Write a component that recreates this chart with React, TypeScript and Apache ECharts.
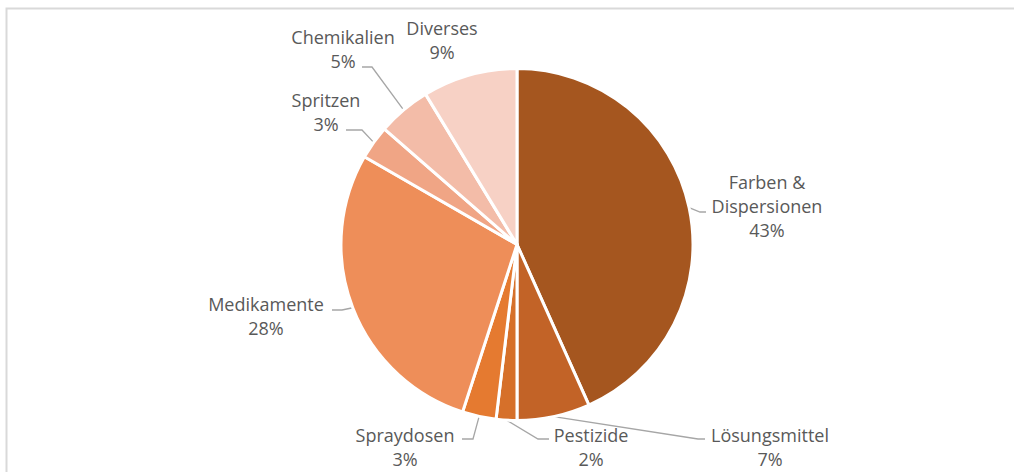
import React, { useEffect, useRef } from "react";
import * as echarts from "echarts";

const categories = [
  "Farben &\nDispersionen",
  "Lösungsmittel",
  "Pestizide",
  "Spraydosen",
  "Medikamente",
  "Spritzen",
  "Chemikalien",
  "Diverses",
];
const values = [43.3, 6.7, 1.9, 3.1, 28.3, 3.1, 4.9, 8.7];
const colors = [
  "#A5561F",
  "#C26327",
  "#D6702A",
  "#E57A30",
  "#EE8E59",
  "#F0A585",
  "#F3BCA8",
  "#F7D1C5",
];
// label centres (layout only)
const labelPos: [number, number][] = [
  [767, 206],
  [770, 447],
  [591, 447],
  [405, 447],
  [266, 316],
  [326, 112],
  [343, 49],
  [442, 40],
];
// leader-line bend and end points (layout only); null = no line
const leaderPts: ([number, number][] | null)[] = [
  [[700, 212], [706, 212]],
  [[698, 439], [705, 439]],
  [[538, 439], [549, 439]],
  [[473, 439], [462, 439]],
  [[342, 310], [332, 310]],
  [[362, 130], [346, 130]],
  [[372, 67], [362, 67]],
  null,
];

export default function App() {
  const ref = useRef<HTMLDivElement>(null);
  useEffect(() => {
    document.body.style.margin = "0";
    const chart = echarts.init(ref.current!, null, { renderer: "svg" });
    chart.setOption({
      animation: false,
      backgroundColor: "#ffffff",
      graphic: [
        {
          type: "rect",
          shape: { x: 6.5, y: 8.5, width: 1030, height: 500 },
          style: { fill: "none", stroke: "#D9D9D9", lineWidth: 2 },
          silent: true,
        },
      ],
      series: [
        {
          type: "pie",
          center: [517, 244.5],
          radius: [0, 176],
          startAngle: 90,
          clockwise: true,
          avoidLabelOverlap: false,
          itemStyle: { borderColor: "#ffffff", borderWidth: 3 },
          data: categories.map((c, i) => ({
            name: c,
            value: values[i],
            itemStyle: { color: colors[i] },
            labelLine: { show: leaderPts[i] !== null },
          })),
          label: {
            show: true,
            position: "outside",
            formatter: (p: any) => `${p.name}\n${Math.round(p.percent)}%`,
            fontFamily: "Open Sans",
            fontSize: 18,
            lineHeight: 24,
            color: "#595959",
            align: "center",
          },
          labelLine: {
            show: true,
            length: 8,
            length2: 8,
            lineStyle: { color: "#A6A6A6", width: 1.3 },
          },
          labelLayout: (params: any) => {
            const i = params.dataIndex;
            const p = labelPos[i];
            const res: any = {
              x: p[0],
              y: p[1],
              align: "center",
              verticalAlign: "middle",
            };
            const lp = leaderPts[i];
            if (lp && params.labelLinePoints && params.labelLinePoints[0]) {
              res.labelLinePoints = [params.labelLinePoints[0], lp[0], lp[1]];
            }
            return res;
          },
          emphasis: { disabled: true },
        },
      ],
    });
    return () => chart.dispose();
  }, []);
  return <div ref={ref} style={{ width: 1014, height: 472 }} />;
}
